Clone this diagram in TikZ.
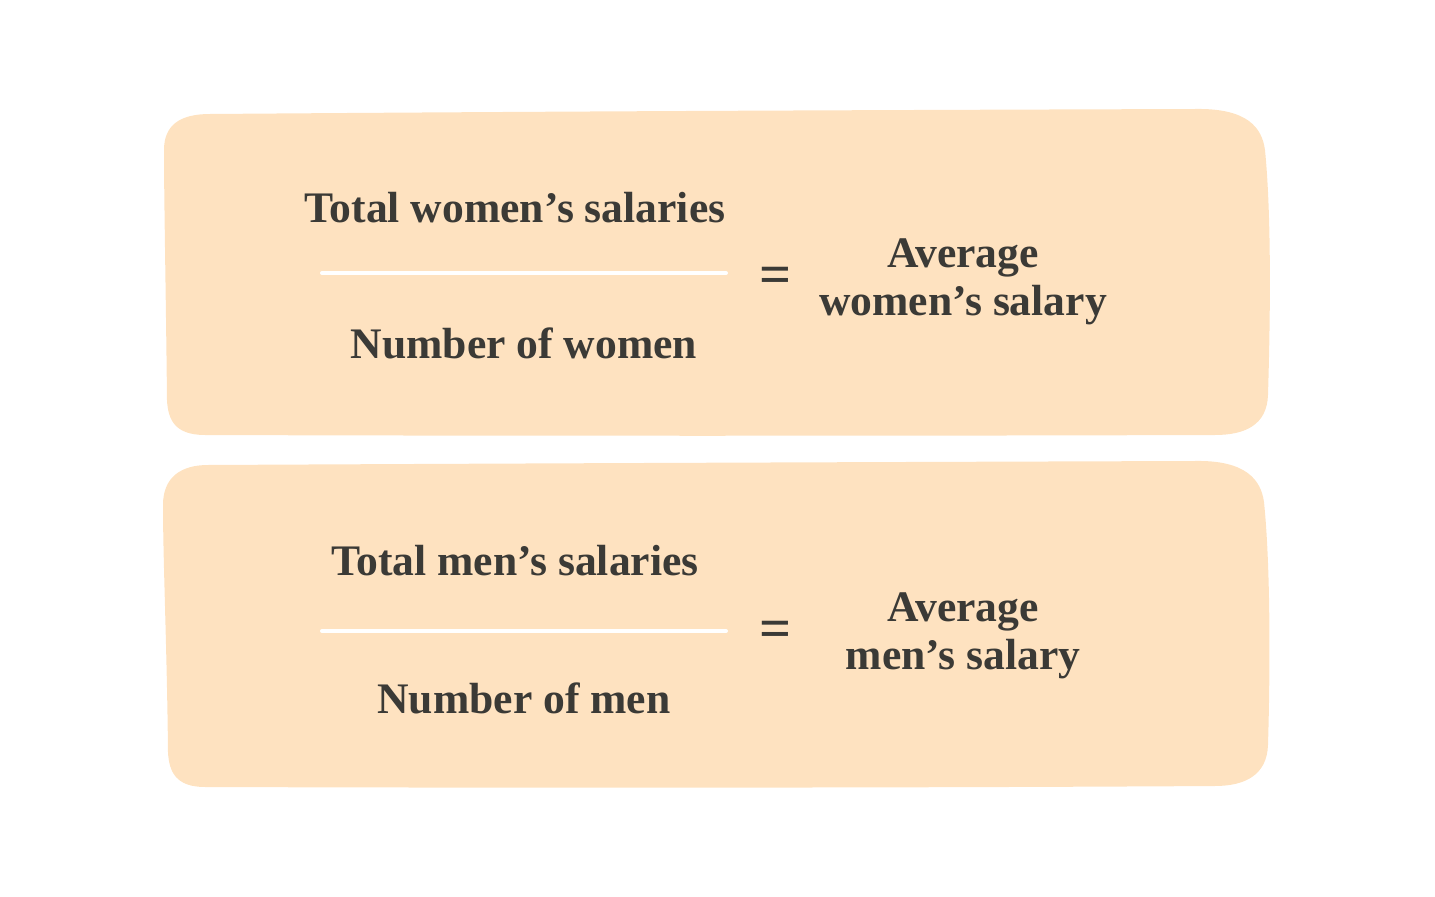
\documentclass[tikz,border=0pt]{standalone}
\usepackage{fontspec}
\setmainfont{Liberation Serif}
\usetikzlibrary{positioning}
\definecolor{peach}{HTML}{FEE2C0}
\definecolor{ink}{HTML}{3B3A36}
\tikzset{
  card/.style   = {fill=peach, draw=none},
  term/.style   = {font=\fontsize{12.4}{14}\selectfont\bfseries, text=ink,
                   inner sep=0pt, anchor=base},
  eqsign/.style = {font=\fontsize{16}{17}\selectfont\bfseries, text=ink, inner sep=0pt},
  bar/.style    = {draw=white, line width=0.4mm, line cap=round},
}
\begin{document}
\begin{tikzpicture}[x=0.01cm, y=-0.01cm]
    \useasboundingbox (0,0) rectangle (1435,897);
    % cards
    \fill[card] (210,114) .. controls (600,111) and (900,110) .. (1195,109)
      .. controls (1248,108) and (1262,128) .. (1265,150)
      .. controls (1272,220) and (1270,330) .. (1268,395)
      .. controls (1267,425) and (1245,435) .. (1215,435)
      .. controls (900,436) and (500,436) .. (205,435)
      .. controls (175,435) and (168,420) .. (167,400)
      .. controls (166,300) and (164,200) .. (164,150)
      .. controls (164,125) and (180,114) .. (210,114) -- cycle;
    \fill[card] (208,465) .. controls (600,463) and (900,462) .. (1195,461)
      .. controls (1246,460) and (1261,480) .. (1264,502)
      .. controls (1271,570) and (1270,680) .. (1268,745)
      .. controls (1267,775) and (1245,786) .. (1215,786)
      .. controls (900,788) and (500,788) .. (205,787)
      .. controls (176,787) and (169,772) .. (168,752)
      .. controls (167,650) and (163,560) .. (163,505)
      .. controls (163,478) and (180,465) .. (208,465) -- cycle;

    % women
    \node[term] (wnum) at (515,222) {Total women’s salaries};
    \node[term] (wden) at (524,358) {Number of women};
    \coordinate (wl) at (322,273);
    \coordinate (wr) at (726,273);
    \draw[bar] (wl) -- (wr);
    \node[eqsign] (weq) at (776,280) {=};
    \node[term] (wavg)  at (963,267) {Average};
    \node[term] (wsal)  at (963,315) {women’s salary};

    % men
    \node[term] (mnum) at (515,575) {Total men’s salaries};
    \node[term] (mden) at (524,713) {Number of men};
    \coordinate (ml) at (322,631);
    \coordinate (mr) at (726,631);
    \draw[bar] (ml) -- (mr);
    \node[eqsign] (meq) at (776,634) {=};
    \node[term] (mavg)  at (963,621) {Average};
    \node[term] (msal)  at (963,669) {men’s salary};
\end{tikzpicture}
\end{document}
